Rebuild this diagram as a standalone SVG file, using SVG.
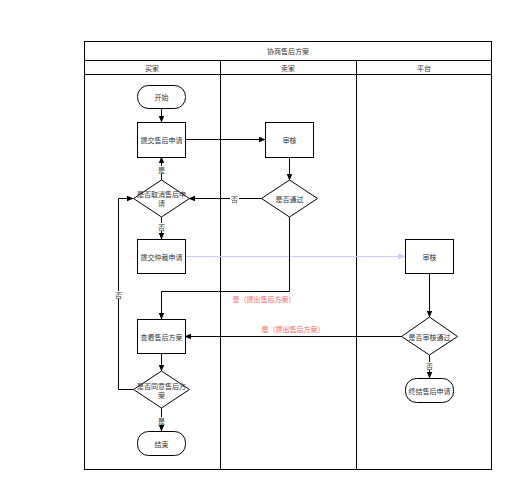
<svg xmlns="http://www.w3.org/2000/svg" width="521" height="500" viewBox="0 0 521 500">
<defs>
<marker id="ah" viewBox="0 0 10 10" refX="9" refY="5" markerWidth="7" markerHeight="7" markerUnits="userSpaceOnUse" orient="auto"><path d="M0,1 L10,5 L0,9 Z" fill="#000"/></marker>
<marker id="ahb" viewBox="0 0 10 10" refX="9" refY="5" markerWidth="8" markerHeight="8" markerUnits="userSpaceOnUse" orient="auto"><path d="M0,1 L10,5 L0,9 Z" fill="#ccccff"/></marker>
<style>
text{font-family:"Noto Sans CJK SC","Noto Sans",sans-serif;font-size:7px;fill:#333;text-anchor:middle;dominant-baseline:central}
.frame{fill:none;stroke:#000;stroke-width:1}
.node{fill:#fff;stroke:#000;stroke-width:1}
.c{fill:none;stroke:#000;stroke-width:1;marker-end:url(#ah)}
.bg{fill:#fff}
.red{fill:#ff6666}
</style>
</defs>
<rect width="521" height="500" fill="#fff"/>
<g id="pool">
<rect class="frame" x="84.5" y="41.5" width="407" height="428"/>
<line class="frame" x1="84.5" y1="60.5" x2="491.5" y2="60.5"/>
<line class="frame" x1="84.5" y1="74.5" x2="491.5" y2="74.5"/>
<line class="frame" x1="220.5" y1="60.5" x2="220.5" y2="469.5"/>
<line class="frame" x1="356.5" y1="60.5" x2="356.5" y2="469.5"/>
<text x="288" y="51">协商售后方案</text>
<text x="152" y="67.5">买家</text>
<text x="288" y="67.5">卖家</text>
<text x="424" y="67.5">平台</text>
</g>
<g id="connectors">
<path class="c" d="M161.5,108 V122"/>
<path class="c" d="M185,139.5 H265"/>
<path class="c" d="M289.5,157 V180"/>
<path class="c" d="M262,198.5 H189"/>
<rect class="bg" x="230" y="194" width="9" height="9"/>
<text x="234.5" y="198.5">否</text>
<path class="c" d="M161.5,180 V157"/>
<rect class="bg" x="157" y="166" width="9" height="8"/>
<text x="161.5" y="170">是</text>
<path class="c" d="M161.5,217 V239"/>
<rect class="bg" x="157" y="223" width="9" height="8"/>
<text x="161.5" y="227">否</text>
<path d="M185,256.5 H405" fill="none" stroke="#ccccff" stroke-width="1" marker-end="url(#ahb)"/>
<path class="c" d="M289.5,217 V291.5 H161.5 V319"/>
<text class="red" x="264" y="298.5">是（提出售后方案）</text>
<path class="c" d="M429.5,273 V317"/>
<path class="c" d="M402,336.5 H185"/>
<text class="red" x="293" y="329">是（提出售后方案）</text>
<path class="c" d="M429.5,355 V378"/>
<rect class="bg" x="425" y="362" width="9" height="8"/>
<text x="429.5" y="366">否</text>
<path class="c" d="M161.5,353 V371"/>
<path class="c" d="M133,389.5 H118.5 V198.5 H133"/>
<rect class="bg" x="114" y="291" width="9" height="8"/>
<text x="118.5" y="295">否</text>
<path class="c" d="M161.5,408 V431"/>
<rect class="bg" x="157" y="417" width="9" height="8"/>
<text x="161.5" y="421">是</text>
</g>
<g id="start"><rect class="node" x="137.5" y="85.5" width="48" height="23" rx="11"/><text x="161.5" y="97">开始</text></g>
<g id="submit"><rect class="node" x="137.5" y="122.5" width="48" height="35"/><text x="161.5" y="140">提交售后申请</text></g>
<g id="cancel"><path class="node" d="M161.5,180 L189.5,198.5 L161.5,217 L133.5,198.5 Z"/><text x="161.5" y="194">是否取消售后申</text><text x="161.5" y="203">请</text></g>
<g id="arbitrate"><rect class="node" x="137.5" y="239.5" width="48" height="34"/><text x="161.5" y="256.5">提交仲裁申请</text></g>
<g id="view"><rect class="node" x="137.5" y="319.5" width="48" height="34"/><text x="161.5" y="336.5">查看售后方案</text></g>
<g id="agree"><path class="node" d="M161.5,371 L189.5,389.5 L161.5,408 L133.5,389.5 Z"/><text x="161.5" y="385.5">是否同意售后方</text><text x="161.5" y="394.5">案</text></g>
<g id="end"><rect class="node" x="137.5" y="431.5" width="48" height="24" rx="11"/><text x="161.5" y="443.5">结束</text></g>
<g id="review1"><rect class="node" x="265.5" y="122.5" width="48" height="35"/><text x="289.5" y="140">审核</text></g>
<g id="pass1"><path class="node" d="M289.5,180 L317.5,198.5 L289.5,217 L261.5,198.5 Z"/><text x="289.5" y="198.5">是否通过</text></g>
<g id="review2"><rect class="node" x="405.5" y="239.5" width="48" height="34"/><text x="429.5" y="256.5">审核</text></g>
<g id="pass2"><path class="node" d="M429.5,317 L457.5,336.5 L429.5,355 L401.5,336.5 Z"/><text x="429.5" y="336.5">是否审核通过</text></g>
<g id="terminate"><rect class="node" x="405.5" y="378.5" width="48" height="24" rx="11"/><text x="429.5" y="390.5">终结售后申请</text></g>
</svg>
